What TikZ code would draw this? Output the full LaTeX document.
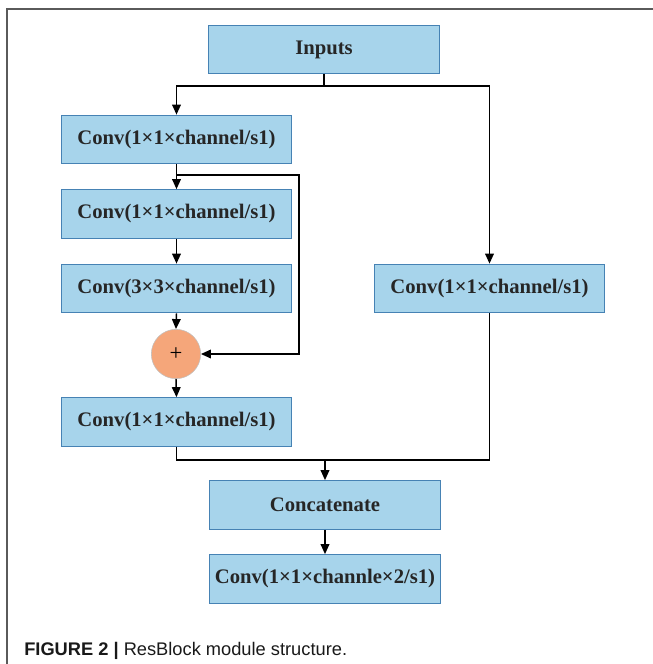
\documentclass[tikz,border=0pt]{standalone}
\usepackage{fontspec}
\setmainfont{Liberation Serif}
\newfontfamily\capfont{Liberation Sans}
\usepackage{tikz}
\usetikzlibrary{arrows.meta,calc}

\definecolor{boxblue}{RGB}{167,212,235}
\definecolor{boxedge}{RGB}{70,130,180}
\definecolor{addorange}{RGB}{245,166,122}
\definecolor{framegray}{RGB}{90,90,90}

\tikzset{
    layer/.style={draw=boxedge, fill=boxblue, line width=0.8pt, inner sep=0pt,
        minimum width=173pt, minimum height=36.5pt,
        font=\fontsize{15.5pt}{18pt}\selectfont\bfseries, text=black!85},
    addop/.style={circle, draw=black!25, fill=addorange, inner sep=0pt,
        minimum size=37pt, font=\fontsize{17pt}{18pt}\selectfont},
    arr/.style={-{Triangle[length=7.5pt,width=6.5pt]}, line width=1.1pt},
    wire/.style={line width=1.1pt}
}

\begin{document}
\begin{tikzpicture}[x=0.75pt, y=-0.75pt]
                \useasboundingbox (0,0) rectangle (653,664);

                % frame
                \draw[framegray, line width=0.9pt] (653,9) -- (7,9) -- (7,664);

                % layers
                \node[layer] (in) at (324,49.5) {Inputs};
                \node[layer] (c1) at (176.5,139.5) {Conv(1×1×channel/s1)};
                \node[layer] (c2) at (176.5,214) {Conv(1×1×channel/s1)};
                \node[layer] (c3) at (176.5,288.5) {Conv(3×3×channel/s1)};
                \node[addop] (add) at (176,354) {+};
                \node[layer] (c4) at (176.5,422) {Conv(1×1×channel/s1)};
                \node[layer] (cr) at (489.5,288.5) {Conv(1×1×channel/s1)};
                \node[layer] (cat) at (325,505) {Concatenate};
                \node[layer] (fin) at (325,579) {Conv(1×1×channle×2/s1)};

                % split after inputs
                \coordinate (split) at (324,86);
                \draw[wire] (in.south) -- (split);
                \draw[arr] (split) -| (c1.north);
                \draw[arr] (split) -| (cr.north);

                % residual path
                \coordinate (skip) at (299,175);
                \draw[arr] (c1.south) -- (c2.north);
                \draw[arr] (c1.south |- skip) -- (skip) |- (add.east);
                \draw[arr] (c2.south) -- (c3.north);
                \draw[arr] (c3.south) -- (add.north);
                \draw[arr] (add.south) -- (c4.north);

                % merge
                \coordinate (join) at (325,460);
                \draw[wire] (c4.south) |- (join);
                \draw[wire] (cr.south) |- (join);
                \draw[arr] (join) -- (cat.north);
                \draw[arr] (cat.south) -- (fin.north);

                % caption
                \node[anchor=base west, inner sep=0pt, font=\capfont\fontsize{13.7pt}{16pt}\selectfont, text=black!90]
                    (cap) at (24,655) {\textbf{FIGURE 2 |} ResBlock module structure.};
            \end{tikzpicture}
\end{document}
